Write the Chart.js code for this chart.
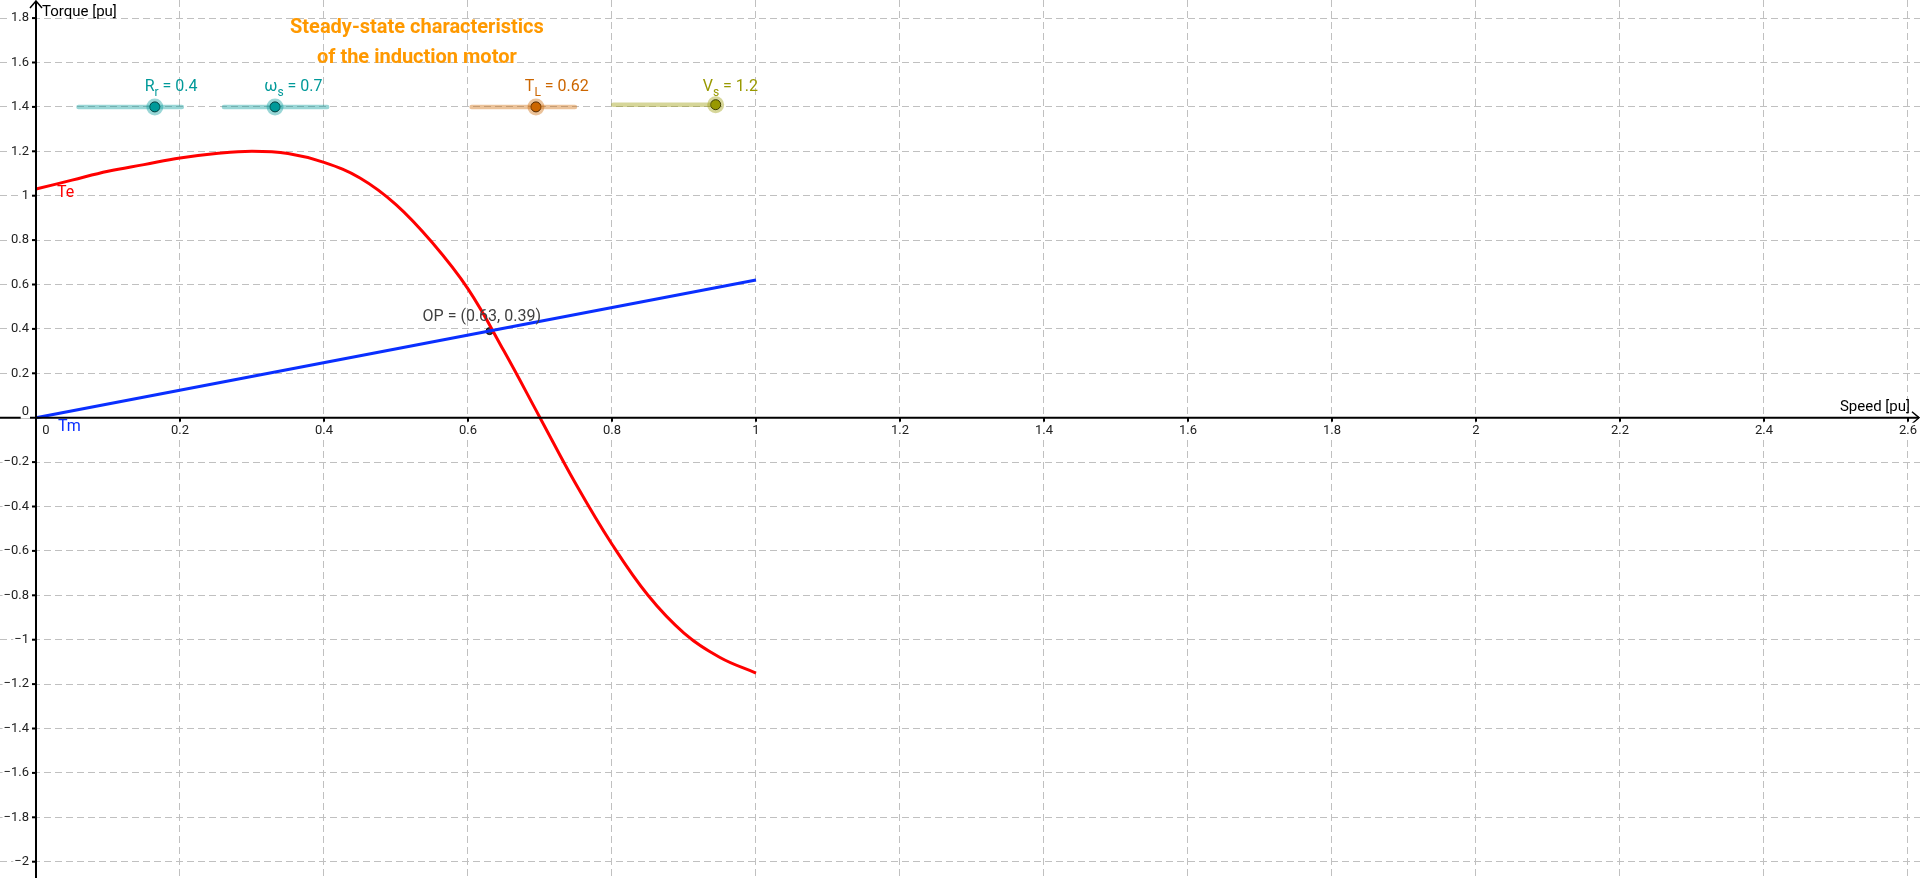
<!DOCTYPE html>
<html>
<head>
<meta charset="utf-8">
<title>Steady-state characteristics of the induction motor</title>
<script src="https://cdn.jsdelivr.net/npm/chart.js@4.4.1/dist/chart.umd.min.js"></script>
<style>
    html, body { margin: 0; padding: 0; background: #fff; overflow: hidden; }
    #wrap { width: 1920px; height: 878px; position: relative; }
</style>
</head>
<body>
<div id="wrap"><canvas id="chart-motor"></canvas></div>
<script>
// Data
const speed = [0, 0.05, 0.1, 0.15, 0.2, 0.25, 0.3, 0.35, 0.4, 0.45, 0.5, 0.55, 0.6, 0.65, 0.7, 0.75, 0.8, 0.85, 0.9, 0.95, 1];
const torqueTe = [1.03, 1.07, 1.11, 1.14, 1.17, 1.19, 1.2, 1.19, 1.15, 1.08, 0.96, 0.79, 0.58, 0.3, 0, -0.3, -0.57, -0.8, -0.97, -1.08, -1.15];
const speedTm = [0, 1];
const torqueTm = [0, 0.62];
const opPoint = [0.63, 0.39];

// sliders: name, subscript, value
const sliderNames = ['R', 'ω', 'T', 'V'];
const sliderSubs = ['r', 's', 'L', 's'];
const sliderValues = ['0.4', '0.7', '0.62', '1.2'];

const xTicks = [0, 0.2, 0.4, 0.6, 0.8, 1, 1.2, 1.4, 1.6, 1.8, 2, 2.2, 2.4, 2.6];
const yTicks = [1.8, 1.6, 1.4, 1.2, 1, 0.8, 0.6, 0.4, 0.2, 0, -0.2, -0.4, -0.6, -0.8, -1, -1.2, -1.4, -1.6, -1.8, -2];

// slider layout (in axis units)
const sliderTracks = [[0.059, 0.2025, 1.4], [0.261, 0.4044, 1.4], [0.605, 0.7486, 1.4], [0.8018, 0.9454, 1.41]];
const sliderKnobs = [0.165, 0.332, 0.6944, 0.944];
const sliderLabelX = [0.151, 0.317, 0.679, 0.926];
const sliderDark = ['#009999', '#009999', '#cc6600', '#999900'];
const sliderLight = ['rgba(0,153,153,0.4)', 'rgba(0,153,153,0.4)', 'rgba(204,102,0,0.4)', 'rgba(153,153,0,0.4)'];

const FONT = 'Roboto, "DejaVu Sans", sans-serif';

function fmt(v) {
    const s = String(Math.round(v * 10) / 10);
    return s.replace('-', '\u2212');
}

const datasets = [];

sliderTracks.forEach((t, i) => {
    datasets.push({
        data: [{ x: t[0], y: t[2] }, { x: t[1], y: t[2] }],
        showLine: true,
        borderColor: sliderLight[i],
        borderWidth: 4.5,
        borderCapStyle: 'round',
        pointRadius: 0
    });
    datasets.push({
        data: [{ x: sliderKnobs[i], y: t[2] }],
        showLine: false,
        pointRadius: 8.5,
        pointBackgroundColor: sliderLight[i],
        pointBorderWidth: 0
    });
    datasets.push({
        data: [{ x: sliderKnobs[i], y: t[2] }],
        showLine: false,
        pointRadius: 5,
        pointBackgroundColor: sliderDark[i],
        pointBorderColor: '#000',
        pointBorderWidth: 1
    });
});

datasets.push({
    label: 'Tm',
    data: speedTm.map((x, i) => ({ x, y: torqueTm[i] })),
    showLine: true,
    borderColor: '#0a2fff',
    borderWidth: 3,
    pointRadius: 0
});
datasets.push({
    label: 'Te',
    data: speed.map((x, i) => ({ x, y: torqueTe[i] })),
    showLine: true,
    borderColor: '#ff0000',
    borderWidth: 3,
    pointRadius: 0,
    tension: 0.4
});
datasets.push({
    label: 'OP',
    data: [{ x: opPoint[0], y: opPoint[1] }],
    showLine: false,
    pointRadius: 3.5,
    pointBackgroundColor: '#404040',
    pointBorderColor: '#000',
    pointBorderWidth: 1
});

// Axes, labels and texts drawn on top, positioned through the scales
const overlay = {
    id: 'overlay',
    afterDatasetsDraw(chart) {
        const ctx = chart.ctx;
        const xs = chart.scales.x, ys = chart.scales.y;
        const x0 = xs.getPixelForValue(0), y0 = ys.getPixelForValue(0);
        const W = chart.width, H = chart.height;
        ctx.save();

        // axes
        ctx.strokeStyle = '#000';
        ctx.lineWidth = 2;
        ctx.beginPath();
        ctx.moveTo(0, y0); ctx.lineTo(W - 1, y0);
        ctx.moveTo(x0, H); ctx.lineTo(x0, 1);
        ctx.stroke();
        ctx.lineWidth = 1.5;
        ctx.beginPath();
        ctx.moveTo(W - 8, y0 - 6); ctx.lineTo(W - 1, y0); ctx.lineTo(W - 8, y0 + 6);
        ctx.moveTo(x0 - 6, 8); ctx.lineTo(x0, 1); ctx.lineTo(x0 + 6, 8);
        ctx.stroke();

        // ticks and tick labels
        ctx.font = '13px ' + FONT;
        ctx.fillStyle = '#222';
        ctx.lineWidth = 2;
        xTicks.forEach(v => {
            const px = xs.getPixelForValue(v);
            if (v !== 0) {
                ctx.beginPath(); ctx.moveTo(px, y0); ctx.lineTo(px, y0 + 4); ctx.stroke();
            }
            ctx.textAlign = 'center'; ctx.textBaseline = 'middle';
            const lbl = fmt(v);
            const tx = v === 0 ? px + 10 : px;
            const w = ctx.measureText(lbl).width;
            ctx.fillStyle = '#fff';
            ctx.fillRect(tx - w / 2 - 1, y0 + 5, w + 2, 15);
            ctx.fillStyle = '#222';
            ctx.fillText(lbl, tx, y0 + 13);
        });
        yTicks.forEach(v => {
            const py = ys.getPixelForValue(v);
            if (v !== 0) {
                ctx.beginPath(); ctx.moveTo(x0 - 4, py); ctx.lineTo(x0, py); ctx.stroke();
            }
            ctx.textAlign = 'right'; ctx.textBaseline = 'middle';
            const lbl = fmt(v);
            const ty = v === 0 ? py - 6 : py;
            const w = ctx.measureText(lbl).width;
            ctx.fillStyle = '#fff';
            ctx.fillRect(29 - w - 1, ty - 7, w + 2, 14);
            ctx.fillStyle = '#222';
            ctx.fillText(lbl, 29, ty);
        });

        // axis titles
        ctx.font = '15px ' + FONT;
        ctx.fillStyle = '#000';
        ctx.textAlign = 'left'; ctx.textBaseline = 'middle';
        ctx.fillText('Torque [pu]', x0 + 6, 12);
        ctx.textAlign = 'right';
        ctx.fillText('Speed [pu]', W - 10, y0 - 10);

        // curve names
        ctx.font = '16px ' + FONT;
        ctx.textAlign = 'left';
        ctx.fillStyle = '#ff0000';
        ctx.fillText('Te', x0 + 21, ys.getPixelForValue(1) - 3);
        ctx.fillStyle = '#0a2fff';
        ctx.fillText('Tm', x0 + 22, y0 + 9);

        // operating point label
        ctx.fillStyle = '#404040';
        ctx.fillText('OP = (' + opPoint[0] + ', ' + opPoint[1] + ')',
            xs.getPixelForValue(opPoint[0]) - 67, ys.getPixelForValue(opPoint[1]) - 14);

        // slider labels
        sliderNames.forEach((n, i) => {
            let px = xs.getPixelForValue(sliderLabelX[i]);
            const py = ys.getPixelForValue(1.47);
            ctx.fillStyle = sliderDark[i];
            ctx.textBaseline = 'alphabetic';
            ctx.font = '16px ' + FONT;
            ctx.fillText(n, px, py);
            px += ctx.measureText(n).width;
            ctx.font = '12px ' + FONT;
            ctx.fillText(sliderSubs[i], px, py + 5);
            px += ctx.measureText(sliderSubs[i]).width;
            ctx.font = '16px ' + FONT;
            ctx.fillText(' = ' + sliderValues[i], px, py);
        });

        // title
        ctx.font = 'bold 20px ' + FONT;
        ctx.fillStyle = '#ff9900';
        ctx.textAlign = 'center'; ctx.textBaseline = 'middle';
        const tx = xs.getPixelForValue(0.529);
        ctx.fillText('Steady-state characteristics', tx, ys.getPixelForValue(1.754));
        ctx.fillText('of the induction motor', tx, ys.getPixelForValue(1.619));

        ctx.restore();
    }
};

const gridOpts = {
    color: '#c0c0c0',
    lineWidth: 1,
    drawTicks: false
};

new Chart(document.getElementById('chart-motor').getContext('2d'), {
    type: 'scatter',
    data: { datasets },
    options: {
        responsive: true,
        maintainAspectRatio: false,
        animation: false,
        layout: { padding: 0, autoPadding: false },
        plugins: { legend: { display: false }, tooltip: { enabled: false } },
        scales: {
            x: {
                type: 'linear',
                min: -0.05,
                max: 2.6167,
                ticks: { display: false, stepSize: 0.2, includeBounds: false },
                grid: gridOpts,
                border: { display: false, dash: [7, 4] },
                afterFit(s) { s.height = 0; }
            },
            y: {
                type: 'linear',
                min: -2.0734,
                max: 1.8815,
                ticks: { display: false, stepSize: 0.2, includeBounds: false },
                grid: gridOpts,
                border: { display: false, dash: [7, 4] },
                afterFit(s) { s.width = 0; }
            }
        }
    },
    plugins: [overlay]
});
</script>
</body>
</html>
